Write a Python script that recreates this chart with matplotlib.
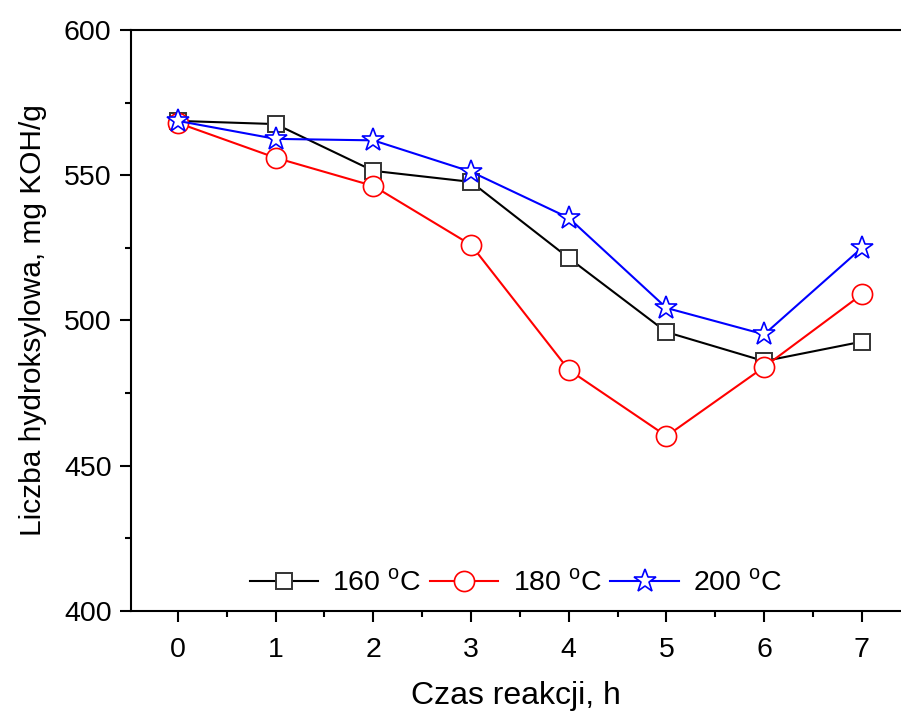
import matplotlib
matplotlib.use('Agg')
import matplotlib.pyplot as plt
from matplotlib.ticker import MultipleLocator

plt.rcParams['font.family'] = ['Liberation Sans', 'DejaVu Sans']
plt.rcParams['mathtext.fontset'] = 'custom'
plt.rcParams['mathtext.rm'] = 'Liberation Sans'

# data
czas = [0, 1, 2, 3, 4, 5, 6, 7]
t160 = [568.7, 567.6, 551.5, 547.7, 521.5, 496.0, 486.0, 492.7]
t180 = [568.0, 556.0, 546.3, 526.0, 483.0, 460.2, 484.0, 509.0]
t200 = [568.7, 562.5, 562.0, 551.2, 535.3, 504.3, 495.2, 525.0]
labels = [r'160 $^{\rm o}$C', r'180 $^{\rm o}$C', r'200 $^{\rm o}$C']

fig = plt.figure(figsize=(9.01, 7.15), dpi=100)
ax = fig.add_axes([0.1454, 0.1455, 0.8546, 0.8126])

ax.plot(czas, t160, color='black', lw=1.5, marker='s', ms=12,
        mfc='white', mec='#333333', mew=1.4, label=labels[0])
ax.plot(czas, t180, color='red', lw=1.5, marker='o', ms=14.5,
        mfc='white', mec='red', mew=1.2, label=labels[1])
ax.plot(czas, t200, color='blue', lw=1.5, marker='*', ms=17,
        mfc='white', mec='blue', mew=1.2, label=labels[2])

ax.set_xlim(-0.48, 7.40)
ax.set_ylim(400, 600)
ax.xaxis.set_major_locator(MultipleLocator(1))
ax.xaxis.set_minor_locator(MultipleLocator(0.5))
ax.yaxis.set_major_locator(MultipleLocator(50))
ax.yaxis.set_minor_locator(MultipleLocator(25))
ax.tick_params(which='major', direction='out', length=8, width=1.5, labelsize=20.5)
ax.tick_params(axis='x', pad=11)
ax.tick_params(axis='y', pad=6)
ax.tick_params(which='minor', direction='out', length=4.5, width=1.5)
ax.tick_params(top=False, right=False)
for s in ['left', 'bottom', 'top']:
    ax.spines[s].set_linewidth(1.5)
ax.spines['right'].set_visible(False)

ax.set_xlabel('Czas reakcji, h', fontsize=23, labelpad=13)
ax.set_ylabel('Liczba hydroksylowa, mg KOH/g', fontsize=21.5, labelpad=12)

ax.legend(loc='lower center', bbox_to_anchor=(0.50, -0.02), ncol=3, frameon=False,
          fontsize=20.5, handlelength=2.4, columnspacing=0.3, handletextpad=0.5)

fig.savefig('out.png', dpi=100)
